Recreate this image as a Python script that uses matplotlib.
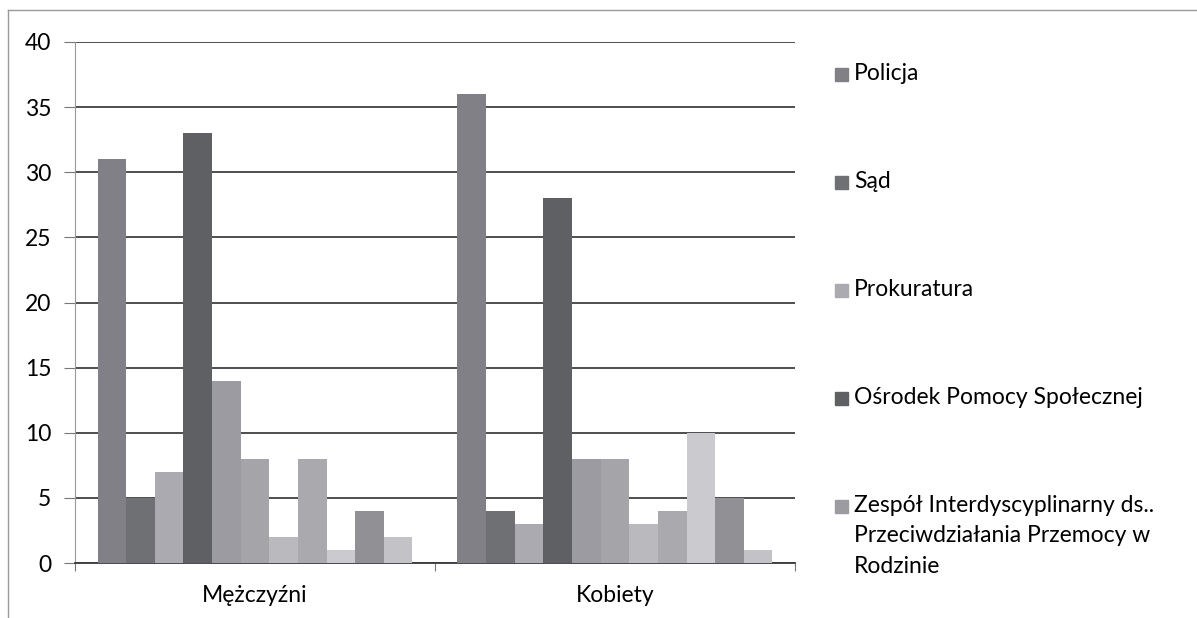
import numpy as np
import matplotlib
matplotlib.use("Agg")
import matplotlib.pyplot as plt
from matplotlib.patches import Rectangle
from matplotlib.lines import Line2D

plt.rcParams['font.family'] = ['Lato', 'DejaVu Sans']

groups = ["Mężczyźni", "Kobiety"]
legend_labels = [
    "Policja",
    "Sąd",
    "Prokuratura",
    "Ośrodek Pomocy Społecznej",
    "Zespół Interdyscyplinarny ds..\nPrzeciwdziałania Przemocy w\nRodzinie",
]
# 11 series per group, only the first five are named in the legend
men = [31, 5, 7, 33, 14, 8, 2, 8, 1, 4, 2]
women = [36, 4, 3, 28, 8, 8, 3, 4, 10, 5, 1]
colors = ["#808086", "#6f7074", "#aaaab0", "#5f6064", "#9b9ba1", "#a4a4a9",
          "#b9b9be", "#a9a9ae", "#cacacf", "#909095", "#c2c2c7"]

fs = 16.5

fig = plt.figure(figsize=(11.97, 6.18), dpi=100)
ax = fig.add_axes([75 / 1197, 1 - 563 / 618, 720 / 1197, 521 / 618])

n = len(men)
bw = 0.875 / n
x = np.arange(len(groups))
for i in range(n):
    ax.bar(x - 0.4375 + bw * (i + 0.5), [men[i], women[i]], width=bw,
           color=colors[i], edgecolor="none", zorder=3)

ax.set_xlim(-0.5, 1.5)
ax.set_ylim(0, 40)
ax.set_yticks(range(0, 41, 5))
ax.yaxis.grid(True, color="#404040", linewidth=1.3, zorder=0)
ax.set_xticks([-0.5, 0.5, 1.5], minor=False)
ax.set_xticklabels([])
ax.set_xticks(x, minor=True)
ax.set_xticklabels(groups, minor=True, fontsize=fs)
ax.tick_params(axis="x", which="minor", length=0, pad=16)
ax.tick_params(axis="x", which="major", length=6, color="#777777")
ax.tick_params(axis="y", length=8, color="#777777", labelsize=fs, pad=9)

for s in ["top", "right"]:
    ax.spines[s].set_visible(False)
ax.spines["left"].set_color("#999999")
ax.spines["bottom"].set_color("#3a3a3a")
ax.spines["bottom"].set_linewidth(1.3)

# legend, drawn by hand to keep the Excel spacing
y0 = 1 - 75 / 618
step = 108 / 618
for i, lab in enumerate(legend_labels):
    yy = y0 - i * step
    fig.add_artist(Rectangle((835 / 1197, yy - 6 / 618), 13 / 1197, 13 / 618,
                             transform=fig.transFigure, color=colors[i]))
    fig.text(854 / 1197, yy + 12 / 618, lab, fontsize=fs, va="top",
             ha="left", linespacing=1.55)

# outer frame of the chart area
fig.add_artist(Line2D([8 / 1197, 8 / 1197], [0, 1 - 10 / 618],
                      transform=fig.transFigure, color="#999999", lw=1))
fig.add_artist(Line2D([8 / 1197, 1], [1 - 10 / 618, 1 - 10 / 618],
                      transform=fig.transFigure, color="#999999", lw=1))

fig.savefig("out.png", dpi=100)
